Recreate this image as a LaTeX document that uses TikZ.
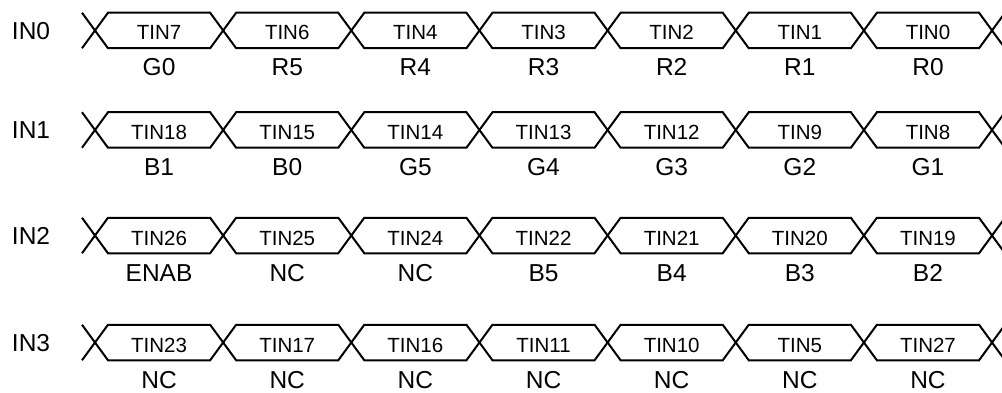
\documentclass[tikz,border=0pt]{standalone}
\usepackage{fontspec}
\setmainfont{Liberation Sans}
\begin{document}
\begin{tikzpicture}[x=1pt, y=-1pt, line width=2pt, line join=miter,
    tin/.style={font=\fontsize{20.5}{24}\selectfont, anchor=base, inner sep=0pt},
    bit/.style={font=\fontsize{24.5}{28}\selectfont, anchor=base, inner sep=0pt}]
  \useasboundingbox (0,0) rectangle (1002,393);
  \foreach \yc/\lab/\cells [count=\r from 0] in {
      30.5/IN0/{TIN7/G0,TIN6/R5,TIN4/R4,TIN3/R3,TIN2/R2,TIN1/R1,TIN0/R0},
      130/IN1/{TIN18/B1,TIN15/B0,TIN14/G5,TIN13/G4,TIN12/G3,TIN9/G2,TIN8/G1},
      235.5/IN2/{TIN26/ENAB,TIN25/NC,TIN24/NC,TIN22/B5,TIN21/B4,TIN20/B3,TIN19/B2},
      342.5/IN3/{TIN23/NC,TIN17/NC,TIN16/NC,TIN11/NC,TIN10/NC,TIN5/NC,TIN27/NC}} {
    \node[bit, anchor=base west] (in\r) at (11,\yc+9) {\lab};
    \draw (82,\yc-17.75) -- (95,\yc) -- (82,\yc+17.75);
    \draw (992,\yc) -- (1005,\yc-17.75) (992,\yc) -- (1005,\yc+17.75);
    \foreach \t/\b [count=\i from 0] in \cells {
      \pgfmathsetmacro\xa{95+128.15*\i}
      \pgfmathsetmacro\xb{\xa+128.15}
      \draw (\xa,\yc) -- (\xa+13,\yc-17.75) -- (\xb-13,\yc-17.75) -- (\xb,\yc)
        -- (\xb-13,\yc+17.75) -- (\xa+13,\yc+17.75) -- cycle;
      \node[tin] (t\r\i) at ({(\xa+\xb)/2},\yc+9.5) {\t};
      \node[bit] (b\r\i) at ({(\xa+\xb)/2},\yc+45.5) {\b};
    }
  }
\end{tikzpicture}
\end{document}
